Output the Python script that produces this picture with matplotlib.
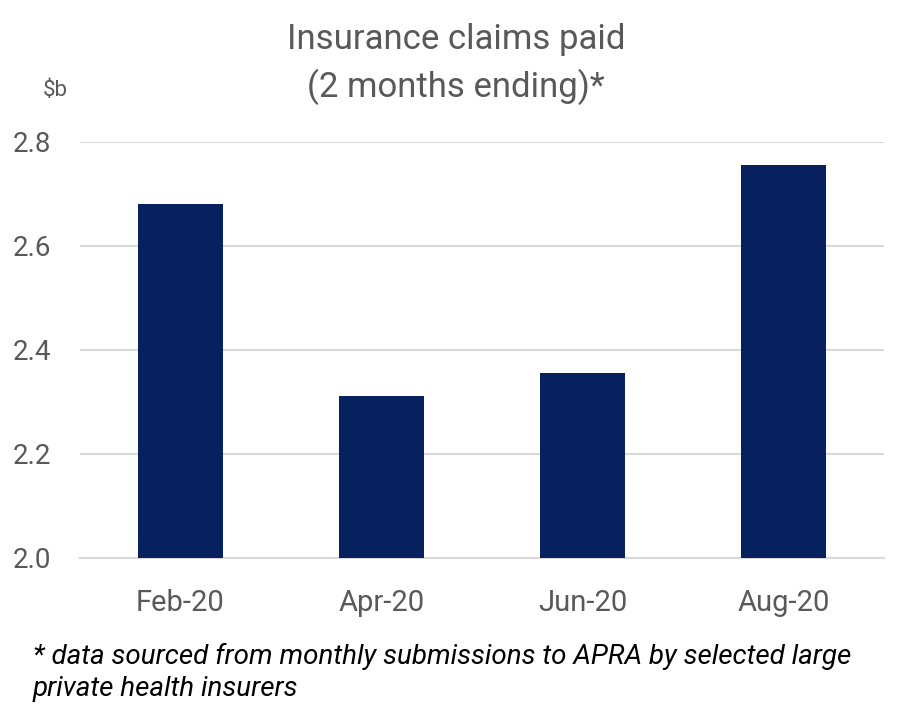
import matplotlib
matplotlib.use("Agg")
import matplotlib.pyplot as plt

categories = ["Feb-20", "Apr-20", "Jun-20", "Aug-20"]
values = [2.681, 2.311, 2.355, 2.756]
yticks = [2.0, 2.2, 2.4, 2.6, 2.8]

plt.rcParams['font.family'] = ['Roboto', 'DejaVu Sans']
grey = '#595959'

fig = plt.figure(figsize=(9.12, 7.22), dpi=100)
ax = fig.add_axes([80/912, 1-558/722, (884-80)/912, (558-142)/722])
x = range(len(categories))
ax.bar(x, values, width=0.42, color='#06215E', zorder=3)
ax.set_ylim(2.0, 2.8)
ax.set_xlim(-0.5, 3.5)
ax.set_yticks(yticks)
ax.set_yticklabels([f"{v:.1f}" for v in yticks])
ax.set_xticks(list(x))
ax.set_xticklabels(categories)
ax.grid(axis='y', color='#D9D9D9', linewidth=1.5, zorder=0)
for s in ['top', 'right', 'left']:
    ax.spines[s].set_visible(False)
ax.spines['bottom'].set_color('#D9D9D9')
ax.spines['bottom'].set_linewidth(1.5)
ax.tick_params(axis='y', length=0, labelsize=20, colors=grey, pad=21)
ax.tick_params(axis='x', length=0, labelsize=21, colors=grey, pad=22)

fig.text(0.5, 1-64/722, "Insurance claims paid\n(2 months ending)*", ha='center', va='center',
         fontsize=25, color=grey, linespacing=1.45)
fig.text(55/912, 1-90/722, "$b", ha='center', va='center', fontsize=16, color=grey)
fig.text(33/912, 1-672/722, "* data sourced from monthly submissions to APRA by selected large\nprivate health insurers",
         ha='left', va='center', fontsize=20, style='italic', color='black', linespacing=1.3)

fig.savefig("out.png", dpi=100)
